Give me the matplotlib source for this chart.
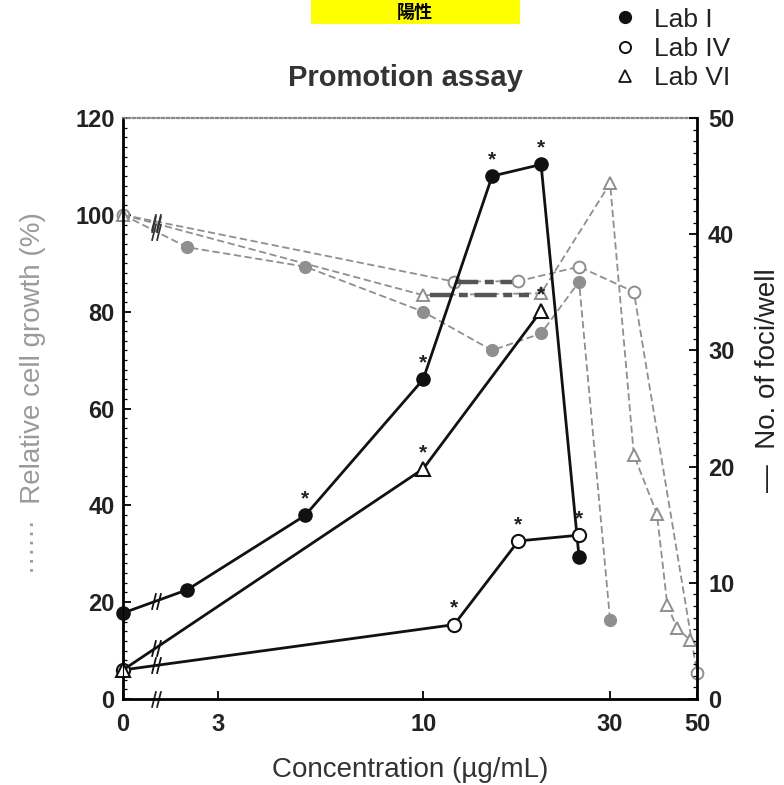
import numpy as np
import matplotlib
matplotlib.use('Agg')
from matplotlib import pyplot as plt
from matplotlib.path import Path
from matplotlib.patches import Rectangle
from matplotlib.ticker import MultipleLocator

plt.rcParams['font.family'] = ['Liberation Sans', 'DejaVu Sans']

# --- data (concentration in ug/mL) ---
# foci/well (solid lines, right axis)
conc_lab1 = [0, 2.5, 5, 10, 15, 20, 25]
foci_lab1 = [7.4, 9.4, 15.8, 27.5, 45.0, 46.0, 12.2]
star_lab1 = [0, 0, 1, 1, 1, 1, 0]

conc_lab4 = [0, 12, 17.5, 25]
foci_lab4 = [2.5, 6.4, 13.6, 14.1]
star_lab4 = [0, 1, 1, 1]

conc_lab6 = [0, 10, 20]
foci_lab6 = [2.5, 19.8, 33.4]
star_lab6 = [0, 1, 1]

# relative cell growth % (dashed lines, left axis)
gconc_lab1 = [0, 2.5, 5, 10, 15, 20, 25, 30]
growth_lab1 = [100, 93.3, 89.3, 80, 72, 75.5, 86.2, 16.3]

gconc_lab4 = [0, 12, 17.5, 25, 34.5, 50]
growth_lab4 = [100, 86.2, 86.3, 89.3, 84.1, 5.4]

gconc_lab6 = [0, 10, 20, 30, 34.5, 39.5, 42, 44.5, 48]
growth_lab6 = [100, 83.4, 83.8, 106.5, 50.4, 38.3, 19.4, 14.6, 12.2]

# thick dash-dot bars
bar_x = [[12.1, 16.9], [10.4, 18.6]]
bar_y = [86.1, 83.4]

x_ticks = [0, 3, 10, 30, 50]
x_break = 1.3

# broken log axis: 0 sits left of the break, log scale from 2.5 upward
U0 = 0.234
CB = 2.5
UB = np.log10(CB)


def fwd(c):
    c = np.asarray(c, dtype=float)
    lin = U0 + (UB - U0) * c / CB
    lg = np.log10(np.maximum(c, CB))
    return np.where(c < CB, lin, lg)


def inv(u):
    u = np.asarray(u, dtype=float)
    lin = (u - U0) / (UB - U0) * CB
    return np.where(u < UB, lin, 10 ** np.maximum(u, UB))


def y_at_break(xs, ys):
    ub = fwd(x_break)
    u0, u1 = fwd(xs[0]), fwd(xs[1])
    return ys[0] + (ys[1] - ys[0]) * (ub - u0) / (u1 - u0)


brk = Path([(-0.55, -1), (-0.05, 1), (0.05, -1), (0.55, 1)],
           [Path.MOVETO, Path.LINETO, Path.MOVETO, Path.LINETO])

gray = '#8f8f8f'
dark = '#222222'

fig = plt.figure(figsize=(7.84, 7.85), dpi=100)
ax = fig.add_axes([123 / 784, 1 - 699 / 785, 574 / 784, 581 / 785])
ax.set_xscale('function', functions=(fwd, inv))
ax.set_xlim(0, 50)
ax.set_ylim(0, 120)

dash = dict(linestyle=(0, (4, 2)), color=gray, lw=1.3, clip_on=False)
ax.plot(gconc_lab1, growth_lab1, marker='o', ms=8.5, mfc=gray, mec=gray, **dash)
ax.plot(gconc_lab4, growth_lab4, marker='o', ms=8.5, mfc='white', mec=gray, mew=1.4, **dash)
ax.plot(gconc_lab6, growth_lab6, marker='^', ms=8.5, mfc='white', mec=gray, mew=1.4, **dash)
for bx, by in zip(bar_x, bar_y):
    ax.plot(bx, [by, by], color='#555555', lw=3.2, linestyle=(0, (5, 1.5, 2, 1.5)))
for xs, ys in [(gconc_lab1, growth_lab1), (gconc_lab4, growth_lab4), (gconc_lab6, growth_lab6)]:
    ax.plot([x_break], [y_at_break(xs, ys)], marker=brk, ms=12, color='#333333', mew=1.3)
ax.plot([x_break], [0], marker=brk, ms=12, color=dark, mew=1.3, clip_on=False)

ax.set_xticks(x_ticks)
ax.set_xticklabels([str(t) for t in x_ticks])
ax.set_yticks(range(0, 121, 20))
ax.yaxis.set_minor_locator(MultipleLocator(2))
ax.xaxis.set_minor_locator(plt.NullLocator())
ax.tick_params(axis='both', which='major', direction='in', length=6, width=1.3,
               labelsize=17, labelcolor=dark)
ax.tick_params(axis='x', which='major', pad=10)
ax.tick_params(axis='y', which='major', pad=6)
ax.tick_params(axis='y', which='minor', direction='in', length=3, width=0.9)
for lab in ax.get_xticklabels() + ax.get_yticklabels():
    lab.set_fontweight('bold')
ax.spines['top'].set_linestyle((0, (1, 1.2)))
ax.spines['top'].set_linewidth(1.6)
ax.spines['top'].set_color('#888888')
ax.spines['left'].set_linewidth(2.0)
ax.spines['bottom'].set_linewidth(2.0)

ax2 = ax.twinx()
ax2.set_ylim(0, 50)
solid = dict(color='#111111', lw=2.0, clip_on=False)
ax2.plot(conc_lab1, foci_lab1, marker='o', ms=9.5, mfc='#111111', **solid)
ax2.plot(conc_lab4, foci_lab4, marker='o', ms=9.5, mfc='white', mew=1.5, **solid)
ax2.plot(conc_lab6, foci_lab6, marker='^', ms=9.5, mfc='white', mew=1.5, **solid)
for xs, ys, st in [(conc_lab1, foci_lab1, star_lab1), (conc_lab4, foci_lab4, star_lab4),
                   (conc_lab6, foci_lab6, star_lab6)]:
    ax2.plot([x_break], [y_at_break(xs, ys)], marker=brk, ms=12, color='#111111', mew=1.3)
    for c, f, s in zip(xs, ys, st):
        if s:
            ax2.annotate('*', (c, f), xytext=(0, 5), textcoords='offset points',
                         ha='center', va='bottom', fontsize=15, fontweight='bold',
                         color=dark)
ax2.set_yticks(range(0, 51, 10))
ax2.yaxis.set_minor_locator(MultipleLocator(1))
ax2.tick_params(axis='y', which='major', direction='in', length=6, width=1.3,
                labelsize=17, pad=8, labelcolor=dark)
ax2.tick_params(axis='y', which='minor', direction='in', length=3, width=0.9)
for lab in ax2.get_yticklabels():
    lab.set_fontweight('bold')
ax2.spines['right'].set_linewidth(2.0)
ax2.spines['top'].set_visible(False)

# labels
fig.text(405 / 784, 1 - 78 / 785, 'Promotion assay', ha='center', va='center',
         fontsize=21, fontweight='bold', color='#333333')
fig.text(410 / 784, 1 - 770 / 785, 'Concentration (\u00b5g/mL)', ha='center', va='center',
         fontsize=20, color='#333333')
fig.text(33 / 784, 1 - 393 / 785, '\u00b7\u00b7\u00b7\u00b7\u00b7\u00b7  Relative cell growth (%)',
         rotation=90, ha='center', va='center', fontsize=20, color='#9a9a9a')
fig.text(768 / 784, 1 - 380 / 785, '\u2014  No. of foci/well', rotation=90,
         ha='center', va='center', fontsize=20, color=dark)

# legend
h1, = ax.plot([], [], 'o', color='#111111', ms=8.5)
h2, = ax.plot([], [], 'o', mfc='white', mec='#111111', mew=1.4, ms=8)
h3, = ax.plot([], [], '^', mfc='white', mec='#111111', mew=1.3, ms=8)
fig.legend([h1, h2, h3], ['Lab I', 'Lab IV', 'Lab VI'], loc='upper left',
           bbox_to_anchor=(601 / 784, 1 + 3 / 785), frameon=False, fontsize=19,
           handlelength=1.0, handletextpad=0.6, labelspacing=0.2, borderaxespad=0,
           labelcolor='#222222')

# yellow box at top
fig.patches.append(Rectangle((311 / 784, 1 - 24 / 785), 209 / 784, 24 / 785,
                             transform=fig.transFigure, facecolor='#ffff00', edgecolor='none'))
fig.text(415 / 784, 1 - 12 / 785, '\u967d\u6027', ha='center', va='center', fontsize=13,
         fontweight='bold', family=['Noto Sans CJK JP', 'DejaVu Sans'])

fig.savefig('out.png', dpi=100)
